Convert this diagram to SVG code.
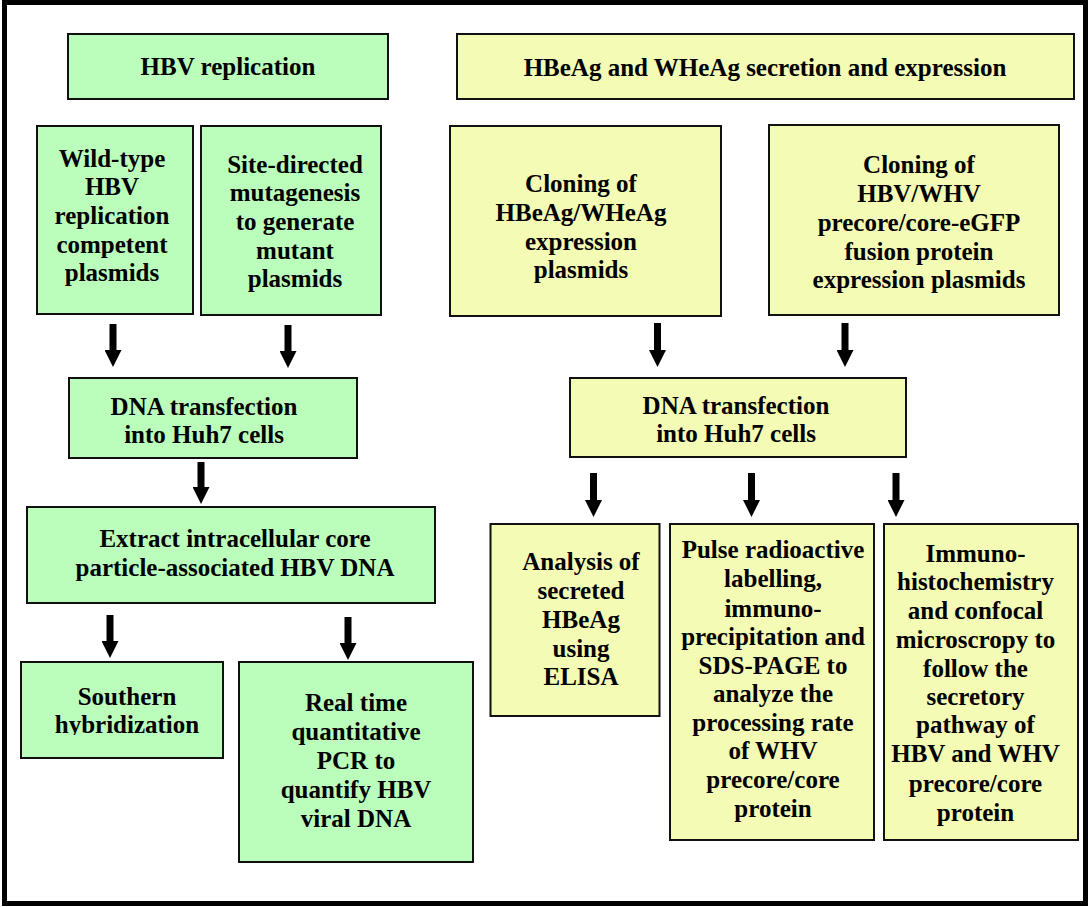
<svg xmlns="http://www.w3.org/2000/svg" width="1089" height="907" viewBox="0 0 1089 907">
<style>
.g{fill:#BBFEBB;stroke:#111;stroke-width:2}
.y{fill:#F3FBB4;stroke:#111;stroke-width:2}
text{font-family:"Liberation Serif","Times New Roman",serif;font-weight:bold;font-size:25px;fill:#000;text-anchor:middle}
.c line{stroke:#000;stroke-width:7}
</style>
<defs>
<marker id="ah" viewBox="0 0 17 17" refX="0" refY="8.5" markerWidth="17" markerHeight="17" markerUnits="userSpaceOnUse" orient="auto">
<path d="M0,0 L17,8.5 L0,17 z" fill="#000"/>
</marker>
<clipPath id="clipS"><rect x="22" y="663" width="200" height="72"/></clipPath>
</defs>
<rect x="0" y="0" width="1089" height="907" fill="#fff"/>
<rect x="4.5" y="2.5" width="1081" height="901" fill="none" stroke="#000" stroke-width="5"/>

<g id="hbv-title"><rect class="g" x="68" y="34" width="320" height="65"/><text x="228" y="75">HBV replication</text></g>
<g id="wild-type"><rect class="g" x="37" y="126" width="156" height="188"/>
<text x="112"><tspan x="112" y="167">Wild-type</tspan><tspan x="112" y="195">HBV</tspan><tspan x="112" y="224">replication</tspan><tspan x="112" y="253">competent</tspan><tspan x="112" y="281">plasmids</tspan></text></g>
<g id="site-directed"><rect class="g" x="201" y="126" width="180" height="189"/>
<text><tspan x="295" y="173">Site-directed</tspan><tspan x="295" y="201">mutagenesis</tspan><tspan x="295" y="230">to generate</tspan><tspan x="295" y="259">mutant</tspan><tspan x="295" y="287">plasmids</tspan></text></g>
<g id="transfection-left"><rect class="g" x="69" y="378" width="288" height="80"/>
<text><tspan x="204" y="415">DNA transfection</tspan><tspan x="204" y="443">into Huh7 cells</tspan></text></g>
<g id="extract"><rect class="g" x="27" y="507" width="408" height="96"/>
<text><tspan x="235" y="547">Extract intracellular core</tspan><tspan x="235" y="576">particle-associated HBV DNA</tspan></text></g>
<g id="southern"><rect class="g" x="21" y="662" width="202" height="96"/>
<text clip-path="url(#clipS)"><tspan x="127" y="705">Southern</tspan><tspan x="127" y="733">hybridization</tspan></text></g>
<g id="realtime"><rect class="g" x="239" y="662" width="234" height="200"/>
<text><tspan x="356" y="711">Real time</tspan><tspan x="356" y="740">quantitative</tspan><tspan x="356" y="769">PCR to</tspan><tspan x="356" y="798">quantify HBV</tspan><tspan x="356" y="827">viral DNA</tspan></text></g>

<g id="hbeag-title"><rect class="y" x="457" y="34" width="617" height="65"/><text x="765" y="76">HBeAg and WHeAg secretion and expression</text></g>
<g id="cloning1"><rect class="y" x="450" y="126" width="271" height="190"/>
<text><tspan x="581" y="192">Cloning of</tspan><tspan x="581" y="221">HBeAg/WHeAg</tspan><tspan x="581" y="250">expression</tspan><tspan x="581" y="278">plasmids</tspan></text></g>
<g id="cloning2"><rect class="y" x="769" y="125" width="290" height="190"/>
<text><tspan x="919" y="173">Cloning of</tspan><tspan x="919" y="202">HBV/WHV</tspan><tspan x="919" y="231">precore/core-eGFP</tspan><tspan x="919" y="260">fusion protein</tspan><tspan x="919" y="288">expression plasmids</tspan></text></g>
<g id="transfection-right"><rect class="y" x="570" y="378" width="336" height="79"/>
<text><tspan x="736" y="414">DNA transfection</tspan><tspan x="736" y="442">into Huh7 cells</tspan></text></g>
<g id="analysis"><rect class="y" x="490.5" y="524" width="169" height="192"/>
<text><tspan x="581" y="570">Analysis of</tspan><tspan x="581" y="599">secreted</tspan><tspan x="581" y="628">HBeAg</tspan><tspan x="581" y="657">using</tspan><tspan x="581" y="685">ELISA</tspan></text></g>
<g id="pulse"><rect class="y" x="670" y="524" width="204" height="316"/>
<text><tspan x="773" y="558">Pulse radioactive</tspan><tspan x="773" y="587">labelling,</tspan><tspan x="773" y="617">immuno-</tspan><tspan x="773" y="645">precipitation and</tspan><tspan x="773" y="674">SDS-PAGE to</tspan><tspan x="773" y="702">analyze the</tspan><tspan x="773" y="731">processing rate</tspan><tspan x="773" y="759">of WHV</tspan><tspan x="773" y="788">precore/core</tspan><tspan x="773" y="817">protein</tspan></text></g>
<g id="immuno"><rect class="y" x="884" y="524" width="194" height="316"/>
<text><tspan x="975.5" y="562">Immuno-</tspan><tspan x="975.5" y="590">histochemistry</tspan><tspan x="975.5" y="619">and confocal</tspan><tspan x="975.5" y="648">microscropy to</tspan><tspan x="975.5" y="677">follow the</tspan><tspan x="975.5" y="705">secretory</tspan><tspan x="975.5" y="733">pathway of</tspan><tspan x="975.5" y="762">HBV and WHV</tspan><tspan x="975.5" y="792">precore/core</tspan><tspan x="975.5" y="821">protein</tspan></text></g>

<g id="connectors" class="c">
<line x1="113" y1="324" x2="113" y2="350" marker-end="url(#ah)"/>
<line x1="288" y1="325" x2="288" y2="351" marker-end="url(#ah)"/>
<line x1="201" y1="462" x2="201" y2="487" marker-end="url(#ah)"/>
<line x1="110" y1="615" x2="110" y2="641" marker-end="url(#ah)"/>
<line x1="348" y1="617" x2="348" y2="643" marker-end="url(#ah)"/>
<line x1="657.5" y1="323" x2="657.5" y2="350" marker-end="url(#ah)"/>
<line x1="845" y1="323" x2="845" y2="350" marker-end="url(#ah)"/>
<line x1="593.5" y1="473" x2="593.5" y2="500" marker-end="url(#ah)"/>
<line x1="751.5" y1="473" x2="751.5" y2="500" marker-end="url(#ah)"/>
<line x1="896" y1="473" x2="896" y2="500" marker-end="url(#ah)"/>
</g>
</svg>
